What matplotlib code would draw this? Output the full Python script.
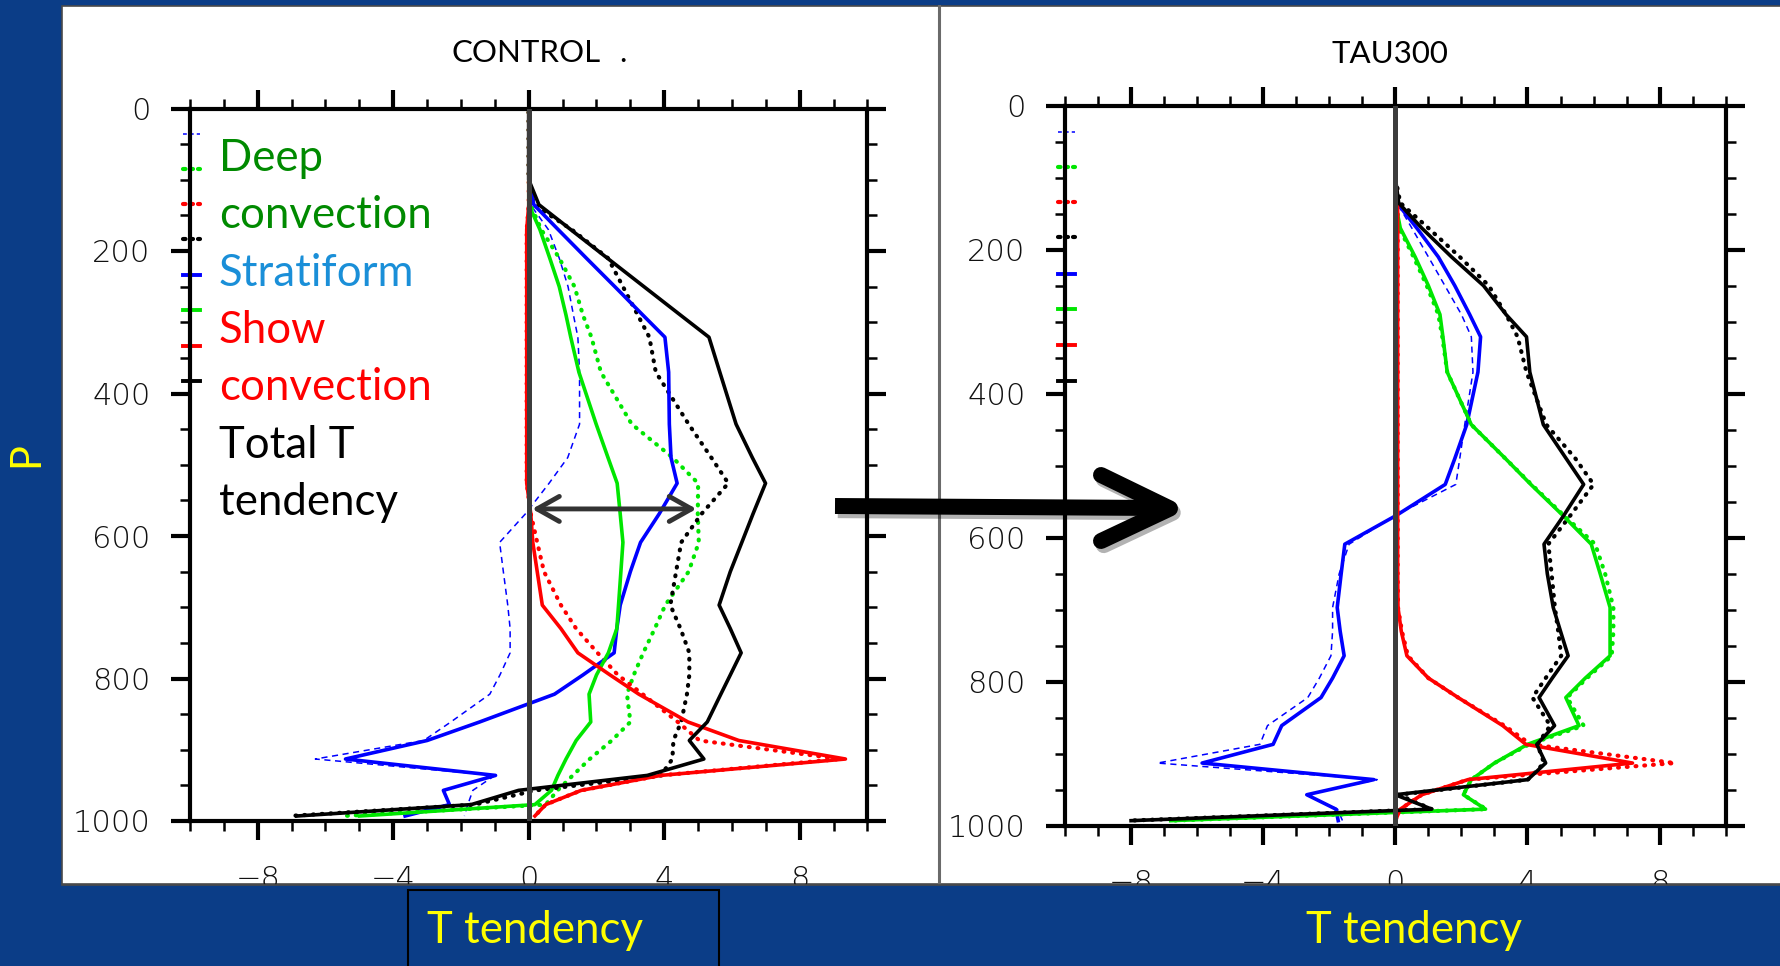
import matplotlib.pyplot as plt
from matplotlib.patches import Rectangle
from matplotlib.lines import Line2D
from matplotlib.ticker import MultipleLocator
import matplotlib.patheffects as pe

W, H = 1781, 966
BLUE_BG = '#0b3d87'
TXT_FONT = ['Lato', 'DejaVu Sans']
TICK_FONT = ['DejaVu Sans']

# pressure levels (hPa) shared by all profiles
plev = [5, 60, 100, 135, 170, 210, 250, 290, 321, 370, 443, 490, 526, 569,
        609, 650, 697, 730, 764, 795, 822, 861, 887, 913, 936, 957, 977, 993]

# CONTROL run
ctl_total = [0, 0, 0, 0.3, 1.24, 2.32, 3.4, 4.48, 5.32, 5.64, 6.12, 6.6, 6.99, 6.62,
             6.29, 5.95, 5.62, 5.95, 6.27, 5.95, 5.67, 5.27, 4.74, 5.17, 3.5, -0.3, -1.7, -6.85]
ctl_total_b = [0, 0, 0, 0.15, 1.27, 2.34, 2.78, 3.22, 3.56, 3.75, 4.72, 5.39, 5.89, 5.1,
               4.5, 4.35, 4.18, 4.48, 4.74, 4.74, 4.67, 4.5, 4.27, 4.24, 3.9, 0.2, -1.6, -7.1]
ctl_strat = [0, 0, 0, 0.15, 0.87, 1.7, 2.54, 3.37, 4.02, 4.13, 4.15, 4.2, 4.38, 3.85,
             3.3, 3.0, 2.7, 2.6, 2.52, 1.6, 0.76, -1.45, -3.0, -5.41, -0.98, -2.52, -2.34, -3.65]
ctl_strat_b = [0, 0, 0, 0.05, 0.58, 0.9, 1.16, 1.32, 1.45, 1.5, 1.5, 1.15, 0.6, -0.1,
               -0.86, -0.75, -0.62, -0.55, -0.55, -0.85, -1.15, -2.3, -3.1, -6.3, -1.0, -1.65, -1.8, -1.9]
ctl_deep = [0, 0, 0, 0, 0.33, 0.62, 0.9, 1.1, 1.24, 1.48, 1.99, 2.34, 2.61, 2.7,
            2.78, 2.72, 2.65, 2.6, 2.35, 2.0, 1.78, 1.83, 1.4, 1.1, 0.86, 0.67, 0.18, -5.0]
ctl_deep_b = [0, 0, 0, 0.05, 0.37, 0.9, 1.35, 1.6, 1.85, 2.13, 3.04, 4.25, 5.0, 4.99,
              5.02, 4.72, 4.03, 3.72, 3.38, 3.1, 2.9, 3.0, 2.45, 1.8, 1.3, 0.85, 0.5, -5.5]
ctl_shal = [0, 0, 0, 0, -0.06, -0.06, -0.06, -0.06, -0.06, -0.06, -0.06, -0.06, -0.06, 0.06,
            0.12, 0.25, 0.4, 0.95, 1.45, 2.4, 3.25, 4.7, 6.2, 9.35, 3.9, 1.55, 0.5, 0.18]
ctl_shal_b = [0, 0, 0, 0, -0.06, -0.06, -0.06, -0.06, -0.06, -0.06, -0.06, -0.06, -0.06, 0.06,
              0.25, 0.45, 0.95, 1.4, 2.03, 2.63, 3.36, 4.4, 5.04, 9.2, 3.9, 1.55, 0.5, 0.18]

# TAU300 run
tau_total = [0, 0, 0, 0.1, 0.8, 1.7, 2.67, 3.35, 3.97, 4.07, 4.48, 5.17, 5.7, 5.1,
             4.5, 4.6, 4.78, 5.0, 5.23, 4.75, 4.35, 4.82, 4.28, 4.55, 4.01, 0.0, 1.1, -8.0]
tau_total_b = [0, 0, 0, 0.15, 1.0, 1.95, 2.83, 3.35, 3.7, 3.97, 4.57, 5.45, 6.0, 5.3,
               4.63, 4.73, 4.83, 4.93, 5.02, 4.55, 4.15, 4.69, 4.3, 4.5, 4.01, 0.1, 1.1, -8.1]
tau_strat = [0, 0, 0, 0.05, 0.65, 1.3, 1.8, 2.25, 2.58, 2.5, 2.16, 1.8, 1.51, 0.03,
             -1.53, -1.64, -1.76, -1.67, -1.55, -1.9, -2.25, -3.44, -3.7, -5.85, -0.65, -2.68, -1.8, -1.73]
tau_strat_b = [0, 0, 0, 0.05, 0.5, 1.0, 1.5, 2.0, 2.3, 2.35, 2.1, 1.95, 1.83, 0.0,
               -1.4, -1.7, -1.9, -1.9, -1.95, -2.3, -2.65, -3.87, -4.1, -7.2, -0.55, -2.7, -1.75, -1.6]
tau_deep = [0, 0, 0, 0, 0.15, 0.6, 1.0, 1.35, 1.44, 1.57, 2.3, 3.33, 4.1, 5.07,
            5.93, 6.2, 6.5, 6.5, 6.5, 5.75, 5.16, 5.56, 4.0, 3.0, 2.3, 2.06, 2.73, -6.8]
tau_deep_b = [0, 0, 0, 0, 0.12, 0.55, 0.95, 1.3, 1.42, 1.57, 2.3, 3.33, 4.12, 5.1,
              6.05, 6.35, 6.6, 6.6, 6.55, 5.8, 5.2, 5.7, 4.05, 3.0, 2.3, 2.06, 2.75, -6.8]
tau_shal = [0, 0, 0, 0.07, 0.07, 0.07, 0.07, 0.07, 0.07, 0.07, 0.07, 0.07, 0.07, 0.07,
            0.07, 0.07, 0.08, 0.18, 0.35, 1.0, 1.9, 3.25, 3.95, 7.18, 2.2, 0.8, 0.15, 0.0]
tau_shal_b = [0, 0, 0, 0.07, 0.07, 0.07, 0.07, 0.07, 0.07, 0.07, 0.07, 0.07, 0.07, 0.07,
              0.07, 0.07, 0.08, 0.2, 0.38, 1.0, 1.9, 3.3, 4.1, 8.46, 2.2, 0.8, 0.15, 0.0]

# small legend stubs left over on the left axis
legend_p_dot = [36, 85, 134, 183]
legend_p_sol = [234, 283, 333, 382]
legend_cols = ['#0000ff', '#00e600', '#ff0000', '#000000']

arrow_x = [0.1, 4.95]
arrow_p = 562

xmajor = [-8, -4, 0, 4, 8]
xlabels = ['\u22128', '\u22124', '0', '4', '8']
ymajor = [0, 200, 400, 600, 800, 1000]

fig = plt.figure(figsize=(W / 100, H / 100), dpi=100, facecolor=BLUE_BG)


def fx(px):
    return px / W


def fy(py):
    return 1 - py / H


def prect(x0, y0, x1, y1):
    return [fx(x0), fy(y1), fx(x1) - fx(x0), fy(y0) - fy(y1)]


# white panels and the divider between them
fig.add_artist(Rectangle((fx(62), fy(884)), 1.0, fy(6) - fy(884), transform=fig.transFigure,
                         facecolor='white', edgecolor='#4a4a4a', lw=1.2, zorder=-2))
fig.add_artist(Line2D([fx(939), fx(939)], [fy(6), fy(884)], transform=fig.transFigure,
                      color='#6a6a6a', lw=2.2, zorder=-1))

dot_style = (0, (0.2, 1.9))
dash_style = (0, (4, 3))


def panel(rect, series):
    ax = fig.add_axes(rect)
    ax.set_facecolor('none')
    ax.set_xlim(-10, 10)
    ax.set_ylim(1000, 0)
    total, total_b, strat, strat_b, deep, deep_b, shal, shal_b = series
    ax.plot(strat_b, plev, color='#0000ff', lw=1.1, ls=dash_style)
    ax.plot(deep_b, plev, color='#00e600', lw=3.0, ls=dot_style, dash_capstyle='round')
    ax.plot(shal_b, plev, color='#ff0000', lw=3.0, ls=dot_style, dash_capstyle='round')
    ax.plot(total_b, plev, color='black', lw=3.0, ls=dot_style, dash_capstyle='round')
    ax.plot(strat, plev, color='#0000ff', lw=2.6)
    ax.plot(deep, plev, color='#00e600', lw=2.6)
    ax.plot(shal, plev, color='#ff0000', lw=2.6)
    ax.plot(total, plev, color='black', lw=2.6)
    ax.axvline(0, color='#3c3c3c', lw=3.6, zorder=4)

    for p, c in zip(legend_p_dot, legend_cols):
        if c == '#0000ff':
            ax.plot([-10.2, -9.7], [p, p], color=c, lw=1.1, ls=(0, (2.5, 2)), clip_on=False)
        else:
            ax.plot([-10.2, -9.7], [p, p], color=c, lw=3.0, ls=(0, (0.6, 1.2)),
                    dash_capstyle='round', clip_on=False)
    for p, c in zip(legend_p_sol, legend_cols):
        ax.plot([-10.2, -9.7], [p, p], color=c, lw=2.8, clip_on=False)

    ax.set_xticks(xmajor)
    ax.set_xticklabels(xlabels)
    ax.set_yticks(ymajor)
    ax.set_yticklabels([str(v) for v in ymajor])
    ax.xaxis.set_minor_locator(MultipleLocator(1))
    ax.yaxis.set_minor_locator(MultipleLocator(50))
    ax.tick_params(which='both', direction='out', top=True, right=True, color='black')
    ax.tick_params(which='major', length=13.5, width=3.0)
    ax.tick_params(which='minor', length=7, width=1.8)
    ax.tick_params(axis='y', which='major', pad=15)
    ax.tick_params(axis='x', which='major', pad=18)
    for lab in ax.get_xticklabels() + ax.get_yticklabels():
        lab.set_fontfamily(TICK_FONT)
        lab.set_fontweight('light')
        lab.set_fontsize(22)
        lab.set_color('#111111')
    for sp in ax.spines.values():
        sp.set_linewidth(3.0)
    return ax


ax1 = panel(prect(190, 108.5, 867.5, 821),
            [ctl_total, ctl_total_b, ctl_strat, ctl_strat_b, ctl_deep, ctl_deep_b, ctl_shal, ctl_shal_b])
ax2 = panel(prect(1065, 105.7, 1725.7, 825.7),
            [tau_total, tau_total_b, tau_strat, tau_strat_b, tau_deep, tau_deep_b, tau_shal, tau_shal_b])

ax1.annotate('', xy=(arrow_x[1], arrow_p), xytext=(arrow_x[0], arrow_p),
             arrowprops=dict(arrowstyle='<->,head_length=0.8,head_width=0.45', color='#333333',
                             lw=3.5, mutation_scale=20, shrinkA=0, shrinkB=0),
             zorder=6)

# legend text typed on the slide
legend_lines = [('Deep', '#008a00'), ('convection', '#008a00'), ('Stratiform', '#1a8fd8'),
                ('Show', '#ff0000'), ('convection', '#ff0000'), ('Total T', 'black'),
                ('tendency', 'black')]
for i, (s, c) in enumerate(legend_lines):
    fig.text(fx(219), fy(170.7 + 57.4 * i), s, color=c, fontsize=31.5, family=TXT_FONT,
             ha='left', va='baseline', zorder=8)

# titles
fig.text(fx(451.7), fy(61.7), 'CONTROL', fontsize=22.5, family=TXT_FONT, ha='left', va='baseline')
fig.text(fx(619), fy(61.7), '.', fontsize=22.5, family=TXT_FONT, ha='left', va='baseline')
fig.text(fx(1390), fy(63), 'TAU300', fontsize=22.5, family=TXT_FONT, ha='center', va='baseline')

# slide strip below the panels hides the lower half of the x labels
fig.add_artist(Rectangle((0, 0), 1, fy(884.5), transform=fig.transFigure,
                         facecolor=BLUE_BG, edgecolor='none', zorder=5))
fig.add_artist(Line2D([fx(62), 1], [fy(884.5), fy(884.5)], transform=fig.transFigure,
                      color='#4a4a4a', lw=1.2, zorder=5.5))
fig.add_artist(Rectangle((fx(407.7), fy(975)), fx(719) - fx(407.7), fy(890) - fy(975),
                         transform=fig.transFigure, facecolor=BLUE_BG, edgecolor='black',
                         lw=1.5, zorder=6))

fig.text(fx(426.7), fy(943), 'T tendency', color='#ffff00', fontsize=31.5, family=TXT_FONT,
         ha='left', va='baseline', zorder=7)
fig.text(fx(1414), fy(943), 'T tendency', color='#ffff00', fontsize=31.5, family=TXT_FONT,
         ha='center', va='baseline', zorder=7)
fig.text(fx(26), fy(455), 'P', color='#ffff00', fontsize=30, family=TXT_FONT, rotation=90,
         ha='center', va='center', zorder=7)

# big arrow between the panels
shadow = [pe.SimpleLineShadow(offset=(2, -3), alpha=0.3), pe.Normal()]
fig.add_artist(Line2D([fx(835), fx(1160)], [fy(506), fy(508)], transform=fig.transFigure,
                      color='black', lw=11.5, solid_capstyle='butt', zorder=9,
                      path_effects=shadow))
fig.add_artist(Line2D([fx(1101), fx(1170), fx(1101)], [fy(475), fy(508.5), fy(541)],
                      transform=fig.transFigure, color='black', lw=11.5,
                      solid_capstyle='round', solid_joinstyle='round', zorder=9,
                      path_effects=shadow))

fig.savefig('out.png', dpi=100, facecolor=BLUE_BG)
